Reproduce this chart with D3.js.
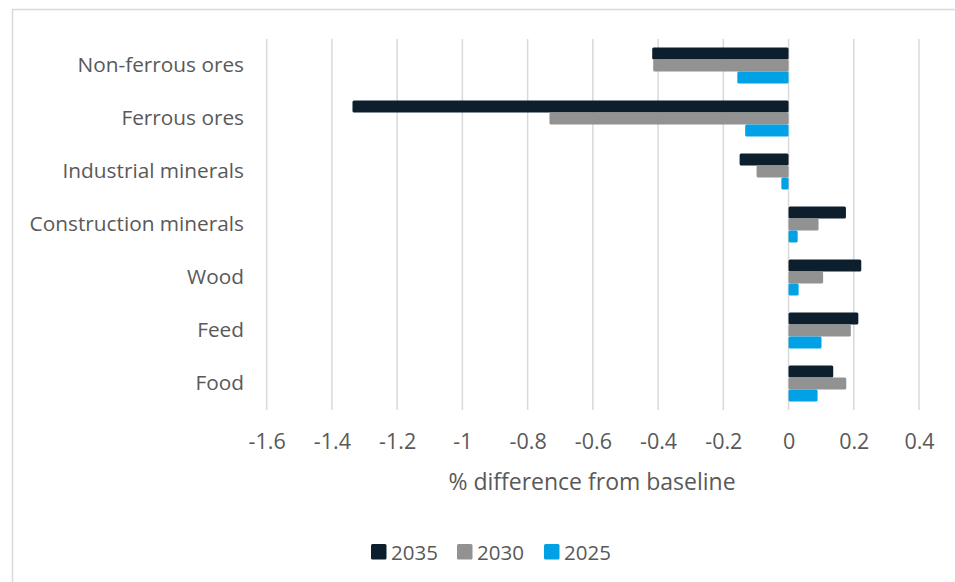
<!DOCTYPE html>
<html>
<head>
<meta charset="utf-8">
<script src="https://cdn.jsdelivr.net/npm/d3@7"></script>
<style>
  html, body { margin: 0; padding: 0; background: #fff; }
  svg { display: block; font-family: "Open Sans", sans-serif; }
</style>
</head>
<body>
<svg id="chart" width="955" height="582"></svg>
<script>
// Material categories, top to bottom
const categories = ["Non-ferrous ores", "Ferrous ores", "Industrial minerals", "Construction minerals", "Wood", "Feed", "Food"];
// Series drawn within each group, top to bottom
const seriesNames = ["2035", "2030", "2025"];
const values2035 = [-0.418, -1.337, -0.150, 0.176, 0.223, 0.214, 0.137];
const values2030 = [-0.415, -0.733, -0.098, 0.092, 0.106, 0.191, 0.177];
const values2025 = [-0.157, -0.133, -0.022, 0.028, 0.031, 0.101, 0.089];
const xTicks = [-1.6, -1.4, -1.2, -1, -0.8, -0.6, -0.4, -0.2, 0, 0.2, 0.4];
const xTitle = "% difference from baseline";

const seriesValues = { "2035": values2035, "2030": values2030, "2025": values2025 };
const colors = { "2035": "#0d1f2d", "2030": "#929292", "2025": "#00a2e5" };
const textColor = "#595959";
const gridColor = "#d9d9d9";

const svg = d3.select("#chart");

// outer chart frame
svg.append("rect")
  .attr("x", 12.5).attr("y", 9.5)
  .attr("width", 960).attr("height", 600)
  .attr("fill", "none").attr("stroke", "#d9d9d9").attr("stroke-width", 1.5);

const plot = { left: 266.7, right: 919, top: 39, bottom: 410 };

const x = d3.scaleLinear().domain([-1.6, 0.4]).range([plot.left, plot.right]);
const y = d3.scaleBand().domain(categories).range([plot.top, plot.bottom]).paddingInner(0.32).paddingOuter(0.16);
const ySub = d3.scaleBand().domain(seriesNames).range([0, y.bandwidth()]);

// vertical gridlines
svg.append("g")
  .selectAll("line")
  .data(xTicks)
  .join("line")
  .attr("x1", d => x(d)).attr("x2", d => x(d))
  .attr("y1", plot.top).attr("y2", plot.bottom)
  .attr("stroke", gridColor).attr("stroke-width", 1.5);

// bars
const rows = [];
categories.forEach((c, i) => {
  seriesNames.forEach(s => rows.push({ category: c, series: s, value: seriesValues[s][i] }));
});

svg.append("g")
  .selectAll("rect")
  .data(rows)
  .join("rect")
  .attr("x", d => x(Math.min(0, d.value)))
  .attr("width", d => Math.abs(x(d.value) - x(0)))
  .attr("y", d => y(d.category) + ySub(d.series))
  .attr("height", ySub.bandwidth())
  .attr("rx", 1.5)
  .attr("fill", d => colors[d.series]);

// x axis tick labels
const xAxis = d3.axisBottom(x).tickValues(xTicks).tickSize(0).tickPadding(0)
  .tickFormat(d => d3.format("")(d).replace("−", "-"));
const gx = svg.append("g").attr("transform", `translate(0, ${plot.bottom})`).call(xAxis);
gx.select(".domain").remove();
gx.selectAll("text")
  .attr("y", 39).attr("dy", null)
  .attr("fill", textColor)
  .style("font-size", "21.5px")
  .style("font-family", "'Open Sans', sans-serif");

// category labels
const yAxis = d3.axisLeft(y).tickSize(0).tickPadding(0);
const gy = svg.append("g").attr("transform", `translate(244, 0)`).call(yAxis);
gy.select(".domain").remove();
gy.selectAll("text")
  .attr("dy", "0.3em")
  .attr("fill", textColor)
  .style("font-size", "20.8px")
  .style("font-family", "'Open Sans', sans-serif");

// axis title
svg.append("text")
  .attr("x", 592).attr("y", 490)
  .attr("text-anchor", "middle")
  .attr("fill", textColor)
  .style("font-size", "23px")
  .text(xTitle);

// legend
const legendItems = [
  { name: "2035", x: 371 },
  { name: "2030", x: 457 },
  { name: "2025", x: 544 }
];
const lg = svg.append("g");
const li = lg.selectAll("g").data(legendItems).join("g")
  .attr("transform", d => `translate(${d.x}, 544)`);
li.append("rect")
  .attr("width", 15.5).attr("height", 15.5).attr("rx", 1.5)
  .attr("fill", d => colors[d.name]);
li.append("text")
  .attr("x", 20).attr("y", 15.5)
  .attr("fill", textColor)
  .style("font-size", "20.5px")
  .text(d => d.name);
</script>
</body>
</html>
